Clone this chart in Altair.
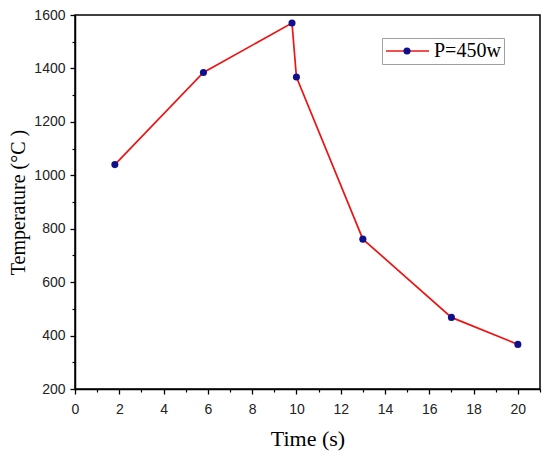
import altair as alt
import pandas as pd

# ---- data ----
time_s = [1.8, 5.8, 9.8, 10.0, 13.0, 17.0, 20.0]
temp_c = [1040, 1385, 1570, 1368, 761, 468, 367]
series_name = "P=450w"

x_major = [0, 2, 4, 6, 8, 10, 12, 14, 16, 18, 20]
x_minor = [1, 3, 5, 7, 9, 11, 13, 15, 17, 19, 21]
y_major = [200, 400, 600, 800, 1000, 1200, 1400, 1600]
y_minor = [300, 500, 700, 900, 1100, 1300, 1500]

df = pd.DataFrame({
    "time": time_s,
    "temp": temp_c,
    "series": [series_name] * len(time_s),
    "marker": [series_name] * len(time_s),
})

LABEL_FONT = "Liberation Sans"
TITLE_FONT = "Liberation Serif"
LINE_RED = "#ee1414"
NAVY = "#10108c"

xscale = alt.Scale(domain=[0, 21], nice=False, zero=False)
yscale = alt.Scale(domain=[200, 1600], nice=False, zero=False)

x_axis_major = alt.Axis(
    orient="bottom", values=x_major, format="d", title="Time (s)",
    titleFont=TITLE_FONT, titleFontSize=22, titleFontWeight="normal",
    titleColor="black", titlePadding=12,
    labelFont=LABEL_FONT, labelFontSize=14, labelColor="#222222",
    labelPadding=8, tickSize=5, tickWidth=1.3, tickColor="black",
    domainColor="black", domainWidth=1.5, grid=False, labelFlush=False,
)
y_axis_major = alt.Axis(
    orient="left", values=y_major, format="d", title="Temperature (°C )",
    titleFont=TITLE_FONT, titleFontSize=20, titleFontWeight="normal",
    titleColor="black", titlePadding=5,
    labelFont=LABEL_FONT, labelFontSize=14, labelColor="#222222",
    labelPadding=5, tickSize=5, tickWidth=1.3, tickColor="black",
    domainColor="black", domainWidth=1.5, grid=False, labelFlush=False,
)
x_axis_minor = alt.Axis(
    orient="bottom", values=x_minor, labels=False, domain=False, title=None,
    tickSize=3, tickWidth=1.2, tickColor="black", grid=False,
)
y_axis_minor = alt.Axis(
    orient="left", values=y_minor, labels=False, domain=False, title=None,
    tickSize=3, tickWidth=1.2, tickColor="black", grid=False,
)

base = alt.Chart(df)

line = base.mark_line(strokeWidth=1.7).encode(
    x=alt.X("time:Q", scale=xscale, axis=x_axis_major),
    y=alt.Y("temp:Q", scale=yscale, axis=y_axis_major),
    stroke=alt.Stroke(
        "series:N", title=None,
        scale=alt.Scale(range=[LINE_RED]),
        legend=alt.Legend(
            orient="none", legendX=307, legendY=23,
            symbolType="stroke", symbolSize=1849, symbolStrokeWidth=1.7,
            labelFont=TITLE_FONT, labelFontSize=20, labelColor="black",
            labelOffset=4, padding=3, clipHeight=20,
            strokeColor="#a0a0a0", fillColor="white",
        ),
    ),
)

points = base.mark_circle(size=50, opacity=1).encode(
    x=alt.X("time:Q", scale=xscale, axis=x_axis_minor),
    y=alt.Y("temp:Q", scale=yscale, axis=y_axis_minor),
    fill=alt.Fill(
        "marker:N", title=None,
        scale=alt.Scale(range=[NAVY]),
        legend=alt.Legend(
            orient="none", legendX=319, legendY=23,
            symbolType="circle", symbolSize=50, symbolStrokeWidth=0,
            labelExpr="''", labelFontSize=20, labelOffset=0,
            padding=3, clipHeight=20, symbolOpacity=1,
        ),
    ),
)

chart = alt.layer(line, points).resolve_axis(
    x="independent", y="independent"
).properties(
    width=465, height=374,
    autosize=alt.AutoSizeParams(type="none"),
    padding={"left": 67, "top": 7, "right": 2, "bottom": 62},
    background="white",
).configure_view(
    stroke="black", strokeWidth=1.5,
)

chart.save("out.html", embed_options={"renderer": "svg", "actions": False})
